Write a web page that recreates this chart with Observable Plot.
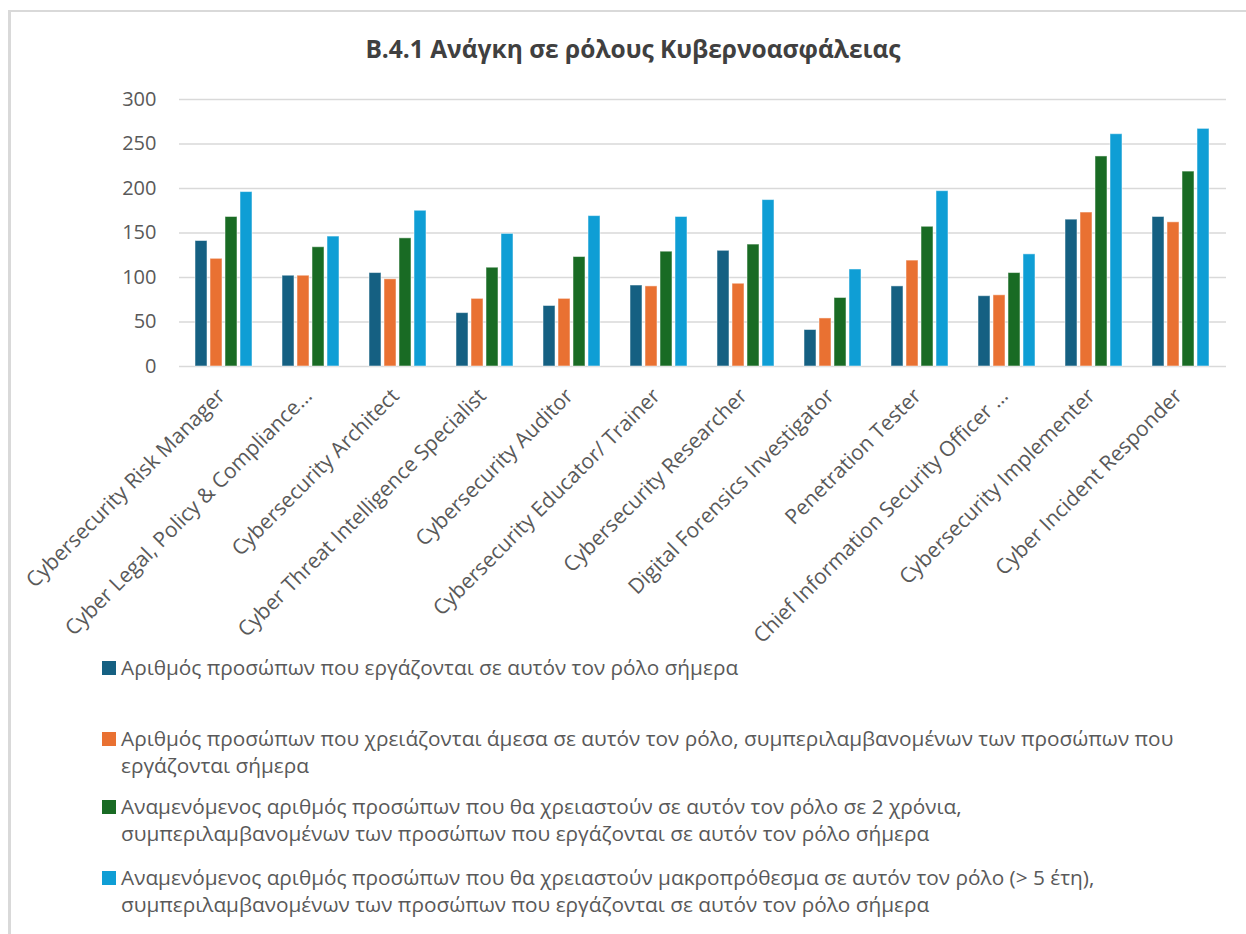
<!DOCTYPE html>
<html>
<head>
<meta charset="utf-8">
<script src="https://cdn.jsdelivr.net/npm/d3@7"></script>
<script src="https://cdn.jsdelivr.net/npm/@observablehq/plot@0.6"></script>
<style>
  html, body { margin: 0; padding: 0; background: #fff; overflow: hidden; width: 1246px; height: 934px; }
  body { position: relative; font-family: "Open Sans", "Noto Sans", sans-serif; color: #595959; }
  #frame { position: absolute; left: 8px; top: 10px; width: 1250px; height: 1000px; border: 2px solid #d9d9d9; border-left-width: 3px; box-sizing: border-box; }
  #title { position: absolute; left: 8px; width: 1250px; top: 32px; text-align: center; font-weight: bold; font-size: 24.5px; color: #404040; line-height: 34px; }
  #grid, #chart { position: absolute; left: 0; top: 80px; }
  #legend { position: absolute; left: 0; top: 0; }
  .item { position: absolute; left: 102px; font-size: 20.8px; line-height: 27px; color: #595959; padding-left: 19px; white-space: nowrap; }
  .sw { position: absolute; left: 0; top: 7px; width: 14px; height: 14px; }
</style>
</head>
<body>
<div id="frame"></div>
<div id="title">B.4.1 Ανάγκη σε ρόλους Κυβερνοασφάλειας</div>
<div id="grid"></div>
<div id="chart"></div>
<div id="legend"></div>
<script>
const categories = [
  "Cybersecurity Risk Manager",
  "Cyber Legal, Policy & Compliance…",
  "Cybersecurity Architect",
  "Cyber Threat Intelligence Specialist",
  "Cybersecurity Auditor",
  "Cybersecurity Educator/ Trainer",
  "Cybersecurity Researcher",
  "Digital Forensics Investigator",
  "Penetration Tester",
  "Chief Information Security Officer …",
  "Cybersecurity Implementer",
  "Cyber Incident Responder"
];
const seriesNames = [
  "Αριθμός προσώπων που εργάζονται σε αυτόν τον ρόλο σήμερα",
  "Αριθμός προσώπων που χρειάζονται άμεσα σε αυτόν τον ρόλο, συμπεριλαμβανομένων των προσώπων που\nεργάζονται σήμερα",
  "Αναμενόμενος αριθμός προσώπων που θα χρειαστούν σε αυτόν τον ρόλο σε 2 χρόνια,\nσυμπεριλαμβανομένων των προσώπων που εργάζονται σε αυτόν τον ρόλο σήμερα",
  "Αναμενόμενος αριθμός προσώπων που θα χρειαστούν μακροπρόθεσμα σε αυτόν τον ρόλο (> 5 έτη),\nσυμπεριλαμβανομένων των προσώπων που εργάζονται σε αυτόν τον ρόλο σήμερα"
];
const seriesColors = ["#156082", "#E97132", "#196B24", "#0F9ED5"];
const today     = [141, 102, 105,  60,  68,  91, 130,  41,  90,  79, 165, 168];
const immediate = [121, 102,  98,  76,  76,  90,  93,  54, 119,  80, 173, 162];
const twoYears  = [168, 134, 144, 111, 123, 129, 137,  77, 157, 105, 236, 219];
const longTerm  = [196, 146, 175, 149, 169, 168, 187, 109, 197, 126, 261, 267];
const yTicks = [0, 50, 100, 150, 200, 250, 300];

const seriesValues = [today, immediate, twoYears, longTerm];
const keys = ["s0", "s1", "s2", "s3"];
const data = [];
categories.forEach((c, i) => {
  seriesValues.forEach((vals, s) => {
    data.push({category: c, series: keys[s], value: vals[i]});
  });
});

const common = {
  width: 1246,
  height: 620,
  marginTop: 19,
  marginBottom: 334,
  marginLeft: 179,
  marginRight: 20,
  style: {fontFamily: "'Open Sans', sans-serif", fontSize: "19px", color: "#595959", background: "transparent", overflow: "visible"},
  y: {domain: [0, 300], axis: null}
};

// background layer: horizontal gridlines and y axis
const gridPlot = Plot.plot({
  ...common,
  marks: [
    Plot.ruleY(yTicks, {stroke: "#d9d9d9", strokeWidth: 1.5}),
    Plot.axisY(yTicks, {anchor: "left", tickSize: 0, tickPadding: 23, fontSize: 20, label: null})
  ]
});
document.getElementById("grid").appendChild(gridPlot);

// foreground layer: grouped bars and category axis
const plot = Plot.plot({
  ...common,
  fx: {domain: categories, paddingInner: 0.31, paddingOuter: 0.155, label: null},
  x: {domain: keys, paddingInner: 0.19, paddingOuter: 0, axis: null},
  color: {domain: keys, range: seriesColors},
  marks: [
    Plot.barY(data, {fx: "category", x: "series", y: "value", fill: "series", stroke: "#ffffff", strokeOpacity: 0.5, strokeWidth: 1}),
    Plot.axisFx({anchor: "bottom", tickRotate: -45, tickSize: 0, tickPadding: 26, dx: -3, fontSize: 21, label: null})
  ]
});
document.getElementById("chart").appendChild(plot);

const tops = [654, 725, 793, 864];
const legend = document.getElementById("legend");
seriesNames.forEach((name, i) => {
  const div = document.createElement("div");
  div.className = "item";
  div.style.top = tops[i] + "px";
  const sw = document.createElement("span");
  sw.className = "sw";
  sw.style.background = seriesColors[i];
  div.appendChild(sw);
  name.split("\n").forEach((line, j) => {
    if (j > 0) div.appendChild(document.createElement("br"));
    div.appendChild(document.createTextNode(line));
  });
  legend.appendChild(div);
});
</script>
</body>
</html>
